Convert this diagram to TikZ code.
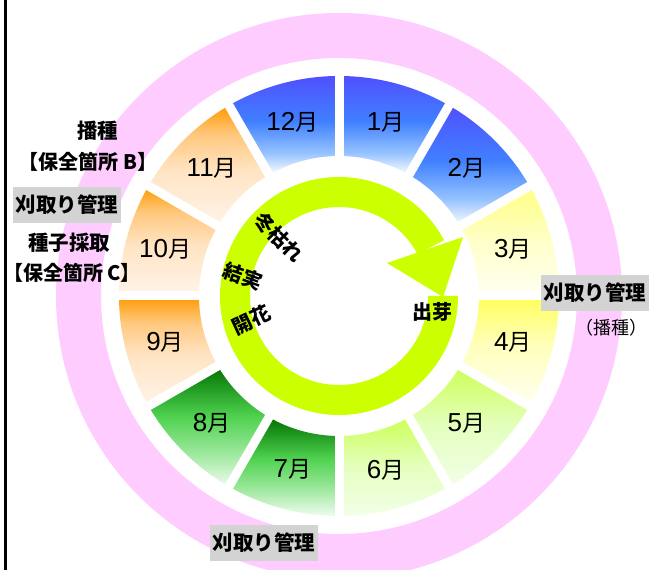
\documentclass[tikz,border=0pt]{standalone}
\usepackage{fontspec}
\setmainfont{Noto Sans CJK JP}
\newfontfamily\lsans{Liberation Sans}
\usetikzlibrary{calc}
\definecolor{pinkring}{HTML}{FFCCFF}
\definecolor{arrowgreen}{HTML}{CCFF00}
\definecolor{boxgray}{HTML}{D3D3D3}
\pgfdeclareverticalshading{blueseg}{100bp}{color(0bp)=(white); color(25bp)=(white);
  color(36bp)=(rgb,255:red,150;green,195;blue,255); color(52bp)=(rgb,255:red,64;green,128;blue,255);
  color(75bp)=(rgb,255:red,80;green,80;blue,255); color(100bp)=(rgb,255:red,80;green,80;blue,255)}
\pgfdeclareverticalshading{yelAseg}{100bp}{color(0bp)=(rgb,255:red,255;green,255;blue,242); color(25bp)=(rgb,255:red,255;green,255;blue,242);
  color(50bp)=(rgb,255:red,255;green,255;blue,200);
  color(75bp)=(rgb,255:red,255;green,255;blue,128); color(100bp)=(rgb,255:red,255;green,255;blue,128)}
\pgfdeclareverticalshading{yelBseg}{100bp}{color(0bp)=(rgb,255:red,255;green,255;blue,240); color(25bp)=(rgb,255:red,255;green,255;blue,240);
  color(52bp)=(rgb,255:red,255;green,255;blue,190);
  color(75bp)=(rgb,255:red,255;green,255;blue,90); color(100bp)=(rgb,255:red,255;green,255;blue,90)}
\pgfdeclareverticalshading{lgseg}{100bp}{color(0bp)=(rgb,255:red,242;green,255;blue,232); color(25bp)=(rgb,255:red,242;green,255;blue,232);
  color(50bp)=(rgb,255:red,228;green,255;blue,190);
  color(75bp)=(rgb,255:red,204;green,255;blue,85); color(100bp)=(rgb,255:red,204;green,255;blue,85)}
\pgfdeclareverticalshading{grseg}{100bp}{color(0bp)=(rgb,255:red,238;green,252;blue,238); color(25bp)=(rgb,255:red,238;green,252;blue,238);
  color(40bp)=(rgb,255:red,150;green,230;blue,150); color(54bp)=(rgb,255:red,80;green,210;blue,80);
  color(75bp)=(rgb,255:red,0;green,112;blue,0); color(100bp)=(rgb,255:red,0;green,112;blue,0)}
\pgfdeclareverticalshading{orseg}{100bp}{color(0bp)=(rgb,255:red,255;green,244;blue,234); color(25bp)=(rgb,255:red,255;green,244;blue,234);
  color(48bp)=(rgb,255:red,255;green,228;blue,196); color(63bp)=(rgb,255:red,255;green,200;blue,125);
  color(75bp)=(rgb,255:red,255;green,153;blue,0); color(100bp)=(rgb,255:red,255;green,153;blue,0)}
\newcommand\mon[1]{{\fontsize{26}{26}\selectfont\lsans #1\fontsize{23}{23}\selectfont\rmfamily 月}}
\newcommand\seg[2]{%
  \shade[shading=#2]
    ($(c)+(#1:140)$) arc[start angle=#1, end angle=#1+30, radius=140]
    -- ($(c)+(#1+30:220)$) arc[start angle=#1+30, end angle=#1, radius=220] -- cycle;}
\tikzset{
  lbl/.style={font=\fontsize{20.5}{20.5}\selectfont\bfseries, inner sep=1pt},
  brlbl/.style={font=\fontsize{20}{20}\selectfont\bfseries, inner sep=0pt},
  stage/.style={font=\fontsize{20}{20}\selectfont\bfseries, inner sep=0pt},
  plainlbl/.style={font=\fontsize{18}{18}\selectfont, inner sep=1pt},
  graybox/.style={lbl, fill=boxgray, inner xsep=3pt, minimum height=36pt},
  monlbl/.style={inner sep=0pt},
}
\begin{document}
\begin{tikzpicture}[x=1pt,y=1pt]
\useasboundingbox (0,0) rectangle (649,570);
\clip (0,0) rectangle (649,570);
\fill[white] (0,0) rectangle (649,570);
\coordinate (c) at (339,274);
% pink ring
\fill[pinkring, even odd rule] (c) circle[radius=283] (c) circle[radius=238];
% segments
\seg{60}{blueseg}
\seg{90}{blueseg}
\seg{30}{blueseg}
\seg{0}{yelAseg}
\seg{-30}{yelBseg}
\seg{-60}{lgseg}
\seg{-90}{lgseg}
\seg{-120}{grseg}
\seg{-150}{grseg}
\seg{180}{orseg}
\seg{150}{orseg}
\seg{120}{orseg}
\foreach \a in {0,30,...,330}
  \draw[white, line width=9pt] ($(c)+(\a:130)$) -- ($(c)+(\a:230)$);
% month labels
\node[monlbl] (m1)  at ($(c)+(75:180)$)  {\mon{1}};
\node[monlbl] (m2)  at ($(c)+(45:180)$)  {\mon{2}};
\node[monlbl] (m3)  at ($(c)+(15:180)$)  {\mon{3}};
\node[monlbl] (m4)  at ($(c)+(-15:180)$) {\mon{4}};
\node[monlbl] (m5)  at ($(c)+(-45:180)$) {\mon{5}};
\node[monlbl] (m6)  at ($(c)+(-75:180)$) {\mon{6}};
\node[monlbl] (m7)  at ($(c)+(-105:180)$) {\mon{7}};
\node[monlbl] (m8)  at ($(c)+(-135:180)$) {\mon{8}};
\node[monlbl] (m9)  at ($(c)+(-165:180)$) {\mon{9}};
\node[monlbl] (m10) at ($(c)+(165:180)$) {\mon{10}};
\node[monlbl] (m11) at ($(c)+(135:180)$) {\mon{11}};
\node[monlbl] (m12) at ($(c)+(105:180)$) {\mon{12}};
% circular arrow
\fill[arrowgreen] ($(c)+(28:119)$) arc[start angle=28, end angle=360, radius=119]
  -- ($(c)+(0:89)$) arc[start angle=360, end angle=28, radius=89] -- cycle;
\fill[arrowgreen] ($(c)+(48,33)$) -- ($(c)+(124,59)$) -- ($(c)+(104,-1)$) -- cycle;
% stage labels
\node[stage, rotate=-45] (s1) at (279,333) {冬枯れ};
\node[stage, rotate=-20] (s2) at (243,294) {結実};
\node[stage, rotate=25]  (s3) at (251,250) {開花};
\node[stage] (s4) at (432,258) {出芽};
% side labels
\node[lbl] (l1) at (98,439) {播種};
\node[brlbl] (l2) at (88,408) {【保全箇所 B】};
\node[graybox] (l3) at (67,365) {刈取り管理};
\node[lbl] (l4) at (69,327) {種子採取};
\node[brlbl] (l5) at (72,297) {【保全箇所 C】};
\node[graybox] (r1) at (595,277) {刈取り管理};
\node[plainlbl] (r2) at (611,242) {（播種）};
\node[graybox] (b1) at (264,27) {刈取り管理};
% left border
\draw[line width=2.5pt] (5.3,0) -- (5.3,570);
\end{tikzpicture}
\end{document}
